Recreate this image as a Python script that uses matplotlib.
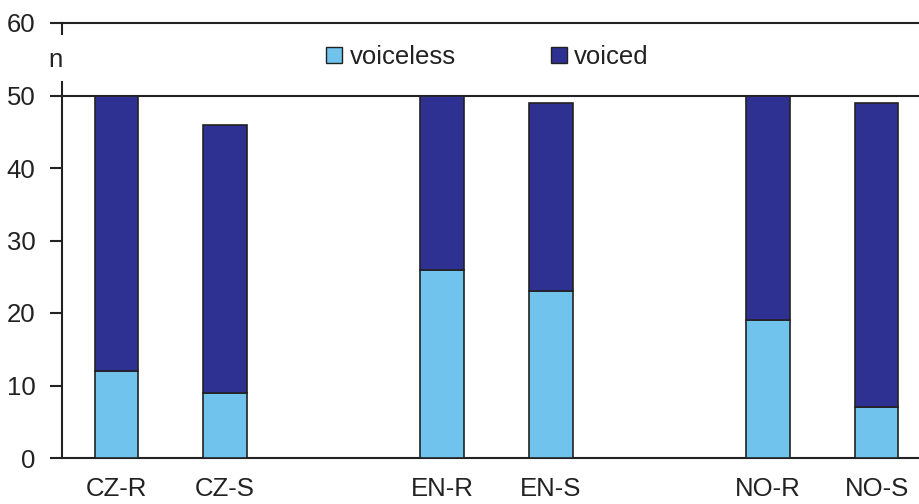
import matplotlib.pyplot as plt
from matplotlib.patches import Patch

categories = ['CZ-R', 'CZ-S', 'EN-R', 'EN-S', 'NO-R', 'NO-S']
slots = [0, 1, 3, 4, 6, 7]
voiceless = [12, 9, 26, 23, 19, 7]
totals = [50, 46, 50, 49, 50, 49]
voiced = [t - v for t, v in zip(totals, voiceless)]

light = '#6fc3ec'
dark = '#2e3192'
edge = '#222222'
fs = 18.5

plt.rcParams['font.family'] = ['Liberation Sans', 'DejaVu Sans']

W, H = 920, 504
fig = plt.figure(figsize=(W / 100, H / 100), dpi=100)
# axes run past the right edge of the picture, like the original
ax = fig.add_axes([62 / W, 46 / H, 869 / W, 435 / H])

ax.bar(slots, voiceless, width=0.4, color=light, edgecolor=edge, linewidth=1.2, zorder=3)
ax.bar(slots, voiced, width=0.4, bottom=voiceless, color=dark, edgecolor=edge,
       linewidth=1.2, zorder=3)

ax.set_xlim(-0.5, 7.5)
ax.set_ylim(0, 60)
for s in ['top', 'right', 'left']:
    ax.spines[s].set_visible(False)
ax.spines['bottom'].set_color(edge)
ax.spines['bottom'].set_linewidth(1.5)

for yv in [50, 60]:
    ax.axhline(yv, color=edge, lw=1.5, zorder=2, clip_on=False)
# left axis line, broken where the "n" sits
ax.plot([-0.5, -0.5], [0, 51.9], color=edge, lw=1.5, clip_on=False, zorder=4)
ax.plot([-0.5, -0.5], [58.5, 60], color=edge, lw=1.5, clip_on=False, zorder=4)

ax.set_yticks(range(0, 61, 10))
ax.tick_params(axis='y', length=9, width=1.5, color=edge, pad=10, labelsize=fs,
               labelcolor='#222222')
ax.set_xticks(slots)
ax.set_xticklabels(categories)
ax.tick_params(axis='x', length=0, pad=14, labelsize=fs, labelcolor='#222222')

fig.text(55 / W, 1 - 60 / H, 'n', fontsize=fs, color='#222222', ha='center', va='center')

handles = [Patch(facecolor=light, edgecolor=edge, label='voiceless'),
           Patch(facecolor=dark, edgecolor=edge, label='voiced')]
fig.legend(handles=handles, ncol=2, frameon=False, fontsize=fs,
           loc='center left', bbox_to_anchor=(313 / W, 1 - 57 / H),
           handlelength=0.62, handleheight=0.62, handletextpad=0.3,
           columnspacing=3.7, borderpad=0, labelcolor='#222222')

fig.savefig('out.png', dpi=100)
